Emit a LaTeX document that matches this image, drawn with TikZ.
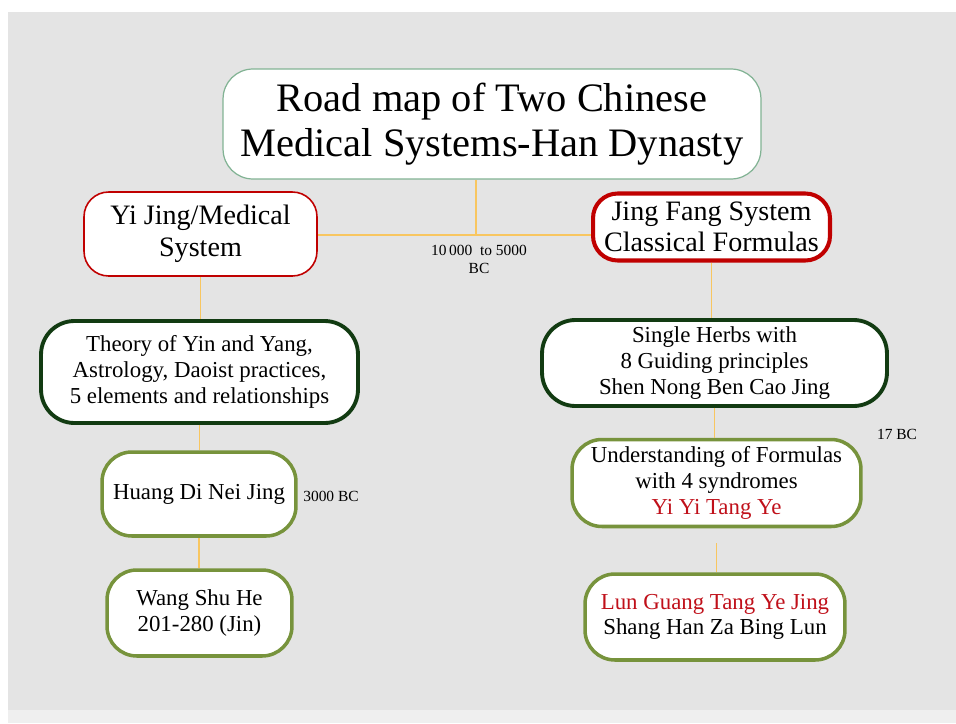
\documentclass[tikz,border=0pt]{standalone}
\usepackage{fontspec}
\setmainfont{Liberation Serif}
\usepackage{tikz}
\usetikzlibrary{positioning,calc}
\usepackage{xcolor}
\definecolor{bggray}{HTML}{E4E4E4}
\definecolor{bgstrip}{HTML}{EFEFEF}
\definecolor{titleline}{HTML}{82B394}
\definecolor{redline}{HTML}{C00000}
\definecolor{darkgreen}{HTML}{123B12}
\definecolor{olive}{HTML}{77933C}
\definecolor{linkline}{HTML}{F8C660}
\definecolor{redtext}{HTML}{C0101A}

\begin{document}
\begin{tikzpicture}[x=0.02cm, y=-0.02cm,
    box/.style={draw, fill=white, align=center, inner sep=0pt, text=black},
    titlebox/.style={box, draw=titleline, line width=0.7pt, rounded corners=17pt,
      font=\fontsize{23}{25.5}\selectfont},
    systembox/.style={box, draw=redline, rounded corners=14pt,
      font=\fontsize{16}{18}\selectfont},
    stagebox/.style={box, draw=darkgreen, line width=2.2pt, rounded corners=19pt,
      font=\fontsize{13}{14.6}\selectfont},
    bookbox/.style={box, draw=olive, line width=2pt, rounded corners=17pt,
      font=\fontsize{13}{14.6}\selectfont},
    period/.style={align=center, inner sep=0pt, font=\fontsize{8.8}{10.2}\selectfont},
    link/.style={draw=linkline, line width=0.6pt}]
  % page and background
  \useasboundingbox (0,0) rectangle (956,723);
  \fill[white] (0,0) rectangle (956,723);
  \fill[bggray] (8,12) rectangle (956,710);
  \fill[bgstrip] (8,710) rectangle (956,723);

  % title
  \node[titlebox, minimum width=10.76cm, minimum height=2.2cm] (title) at (492,124)
    {Road map of Two Chinese\\Medical Systems-Han Dynasty};

  % the two systems
  \node[systembox, line width=0.9pt, minimum width=4.66cm, minimum height=1.68cm,
    text depth=4pt] (yijing) at (200.5,234)
    {Yi Jing/Medical\\System};
  \node[systembox, line width=2.3pt, minimum width=4.74cm, minimum height=1.34cm] (jingfang) at (711.5,227)
    {Jing Fang System\\Classical Formulas};

  % left branch
  \node[stagebox, minimum width=6.34cm, minimum height=2.04cm] (theory) at (199.5,372)
    {Theory of Yin and Yang,\\Astrology, Daoist practices,\\5 elements and relationships};
  \node[bookbox, minimum width=3.88cm, minimum height=1.68cm] (huangdi) at (199,494)
    {Huang Di Nei Jing};
  \node[bookbox, minimum width=3.7cm, minimum height=1.72cm] (wang) at (199.5,613)
    {Wang Shu He\\201-280 (Jin)};

  % right branch
  \node[stagebox, minimum width=6.9cm, minimum height=1.72cm] (herbs) at (714.5,363)
    {Single Herbs with\\8 Guiding principles\\Shen Nong Ben Cao Jing};
  \node[bookbox, minimum width=5.78cm, minimum height=1.74cm] (formulas) at (716.5,483)
    {Understanding of Formulas\\with 4 syndromes\\\textcolor{redtext}{Yi Yi Tang Ye}};
  \node[bookbox, minimum width=5.2cm, minimum height=1.72cm] (lunguang) at (715,617)
    {\textcolor{redtext}{Lun Guang Tang Ye Jing}\\Shang Han Za Bing Lun};

  % dates
  \node[period] (p1) at (479,259) {10\,000~ to 5000\\BC};
  \node[period] (p2) at (331,496) {3000 BC};
  \node[period] (p3) at (897,434) {17 BC};

  % connectors
  \coordinate (fork) at (476,235);
  \draw[link] (fork |- title.south) -- (fork);
  \draw[link] (fork) -- (fork -| yijing.east);
  \draw[link] (fork) -- (fork -| jingfang.west);
  \draw[link] (yijing.south) -- (yijing.south |- theory.north);
  \draw[link] (theory.south) -- (theory.south |- huangdi.north);
  \draw[link] (huangdi.south) -- (huangdi.south |- wang.north);
  \draw[link] (jingfang.south) -- (jingfang.south |- herbs.north);
  \draw[link] (herbs.south) -- (herbs.south |- formulas.north);
  \draw[link, shorten <=0.3cm] (formulas.south) -- (formulas.south |- lunguang.north);
\end{tikzpicture}
\end{document}
